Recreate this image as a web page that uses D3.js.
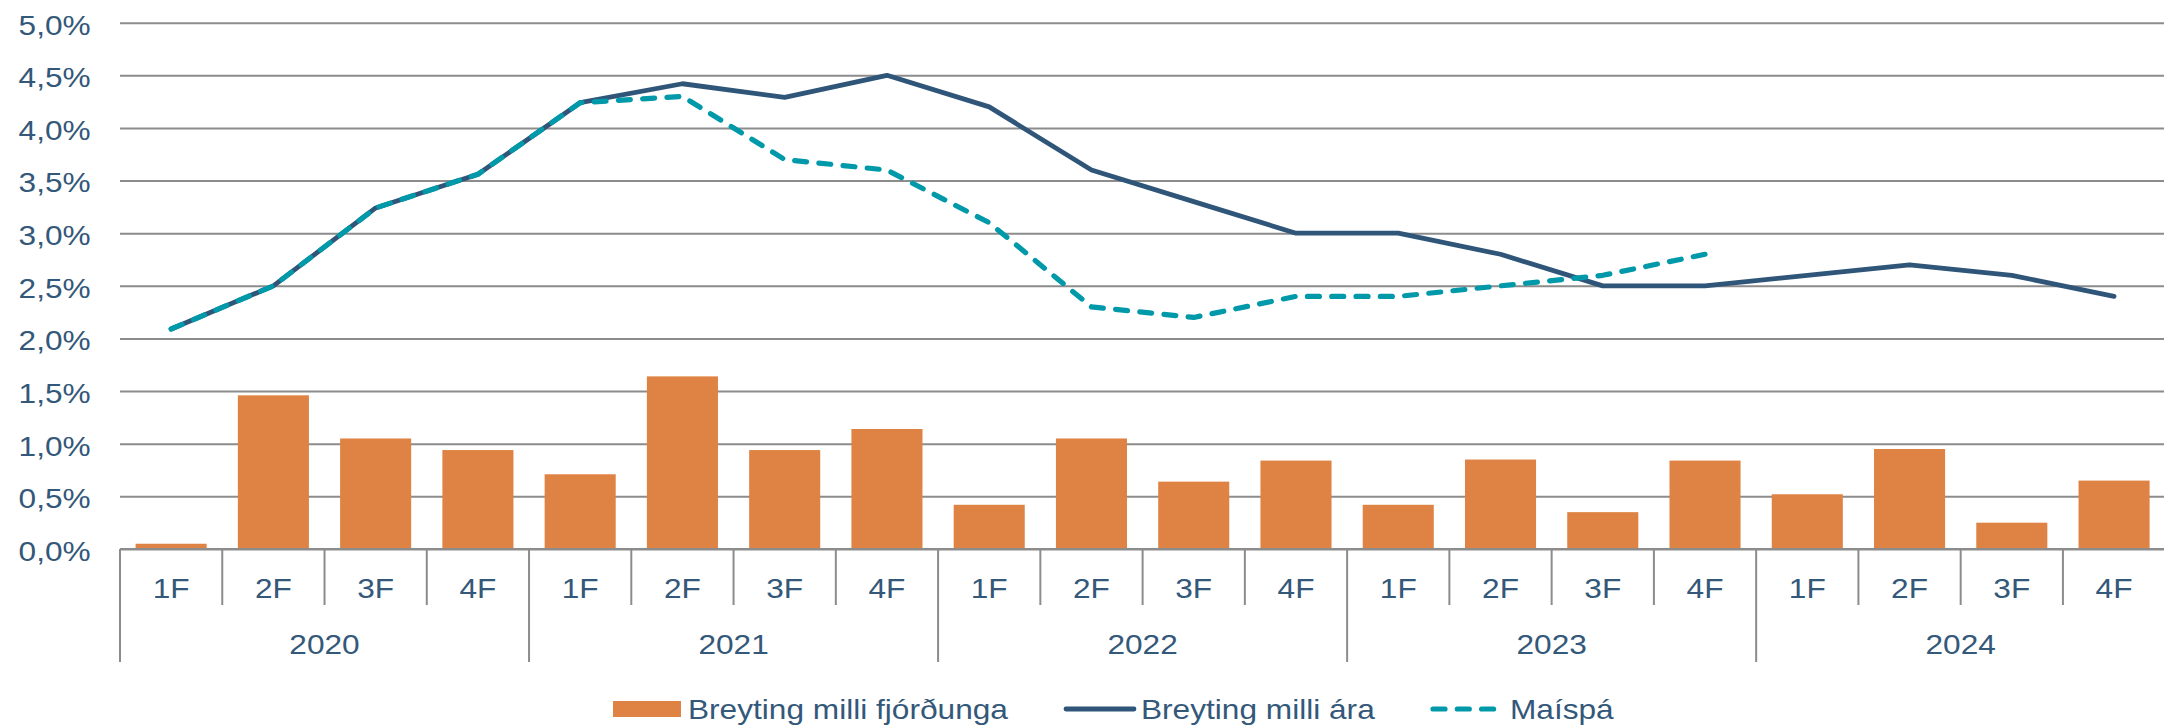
<!DOCTYPE html>
<html>
<head>
<meta charset="utf-8">
<script src="https://cdn.jsdelivr.net/npm/d3@7"></script>
<style>
  html, body { margin: 0; padding: 0; background: #ffffff; }
  svg { display: block; font-family: "Liberation Sans", Arial, sans-serif; }
</style>
</head>
<body>
<svg id="chart" width="2164" height="728"></svg>
<script>
// Quarterly and annual inflation changes, with the May forecast
const years = ["2020", "2021", "2022", "2023", "2024"];
const quarters = ["1F", "2F", "3F", "4F"];
const yTicks = [0, 0.5, 1, 1.5, 2, 2.5, 3, 3.5, 4, 4.5, 5];

// Breyting milli fjórðunga (%)
const quarterly = [0.05, 1.46, 1.05, 0.94,
                   0.71, 1.64, 0.94, 1.14,
                   0.42, 1.05, 0.64, 0.84,
                   0.42, 0.85, 0.35, 0.84,
                   0.52, 0.95, 0.25, 0.65];
// Breyting milli ára (%)
const annual = [2.09, 2.50, 3.24, 3.56,
                4.24, 4.42, 4.29, 4.50,
                4.20, 3.60, 3.30, 3.00,
                3.00, 2.80, 2.50, 2.50,
                2.60, 2.70, 2.60, 2.40];
// Maíspá (%)
const forecast = [2.09, 2.50, 3.24, 3.56,
                  4.24, 4.30, 3.70, 3.60,
                  3.10, 2.30, 2.20, 2.40,
                  2.40, 2.50, 2.60, 2.80];

const seriesNames = ["Breyting milli fjórðunga", "Breyting milli ára", "Maíspá"];

const C = {
  text: "#335879",
  grid: "#8c8c8c",
  bar: "#df8344",
  annual: "#2f5579",
  forecast: "#0099a9"
};
const FS = 28;          // font size
const SX = 1.13;        // horizontal text stretch

const cats = [];
years.forEach(yr => quarters.forEach(q => cats.push(yr + "-" + q)));

const plotLeft = 120, step = 102.26, plotTop = 22.7, plotBottom = 549;
const plotRight = plotLeft + step * cats.length;

const x = d3.scaleBand().domain(cats).range([plotLeft, plotRight])
  .paddingInner(0.305).paddingOuter(0.1525);
const y = d3.scaleLinear().domain([0, 5]).range([plotBottom, plotTop]);
const cx = c => x(c) + x.bandwidth() / 2;
const boundary = i => plotLeft + i * x.step();

const svg = d3.select("#chart");

// Gridlines and y labels
const yAxis = svg.append("g").attr("transform", `translate(${plotLeft},0)`)
  .call(d3.axisLeft(y).tickValues(yTicks).tickSize(-(plotRight - plotLeft))
    .tickFormat(d => d3.format(".1f")(d).replace(".", ",") + "%"));
yAxis.select(".domain").remove();
yAxis.selectAll(".tick line").attr("stroke", C.grid).attr("stroke-width", 2);
yAxis.selectAll(".tick text")
  .attr("x", null).attr("dy", null)
  .attr("fill", C.text).attr("font-size", FS)
  .attr("font-family", "Liberation Sans, Arial, sans-serif")
  .attr("text-anchor", "end").attr("dominant-baseline", "central")
  .attr("transform", `translate(-29.3,1.5) scale(${SX},1)`);

// Bars
svg.append("g").selectAll("rect").data(quarterly).join("rect")
  .attr("x", (d, i) => x(cats[i]))
  .attr("width", x.bandwidth())
  .attr("y", d => y(d))
  .attr("height", d => y(0) - y(d))
  .attr("fill", C.bar);

// Category axis (quarters and years)
const ax = svg.append("g");
ax.append("line").attr("x1", plotLeft).attr("x2", plotRight)
  .attr("y1", plotBottom).attr("y2", plotBottom)
  .attr("stroke", C.grid).attr("stroke-width", 2);
cats.forEach((c, i) => {
  const isYear = i % 4 === 0;
  ax.append("line")
    .attr("x1", boundary(i)).attr("x2", boundary(i))
    .attr("y1", plotBottom).attr("y2", isYear ? 662 : 605)
    .attr("stroke", C.grid).attr("stroke-width", 2);
  ax.append("text")
    .attr("transform", `translate(${cx(c)},588) scale(${SX},1)`)
    .attr("text-anchor", "middle").attr("dominant-baseline", "central")
    .attr("font-size", FS).attr("fill", C.text)
    .text(quarters[i % 4]);
});
years.forEach((yr, k) => {
  const mid = (boundary(k * 4) + boundary(k * 4 + 4)) / 2;
  ax.append("text")
    .attr("transform", `translate(${mid},644) scale(${SX},1)`)
    .attr("text-anchor", "middle").attr("dominant-baseline", "central")
    .attr("font-size", FS).attr("fill", C.text)
    .text(yr);
});

// Lines
const line = d3.line().x((d, i) => cx(cats[i])).y(d => y(d));
svg.append("path").datum(annual).attr("d", line)
  .attr("fill", "none").attr("stroke", C.annual)
  .attr("stroke-width", 4.8).attr("stroke-linejoin", "round").attr("stroke-linecap", "round");
svg.append("path").datum(forecast).attr("d", line)
  .attr("fill", "none").attr("stroke", C.forecast)
  .attr("stroke-width", 5.2).attr("stroke-linejoin", "round").attr("stroke-linecap", "round")
  .attr("stroke-dasharray", "12 12.3");

// Legend
const lg = svg.append("g");
lg.append("rect").attr("x", 613).attr("y", 701).attr("width", 68).attr("height", 16).attr("fill", C.bar);
lg.append("line").attr("x1", 1066).attr("x2", 1134).attr("y1", 709).attr("y2", 709)
  .attr("stroke", C.annual).attr("stroke-width", 4.8).attr("stroke-linecap", "round");
lg.append("line").attr("x1", 1433).attr("x2", 1494).attr("y1", 709).attr("y2", 709)
  .attr("stroke", C.forecast).attr("stroke-width", 5.2).attr("stroke-linecap", "round")
  .attr("stroke-dasharray", "12 12.3");
[[688, seriesNames[0]], [1141, seriesNames[1]], [1510, seriesNames[2]]].forEach(([lx, t]) => {
  lg.append("text")
    .attr("transform", `translate(${lx},709) scale(${SX},1)`)
    .attr("dominant-baseline", "central")
    .attr("font-size", FS).attr("fill", C.text)
    .text(t);
});
</script>
</body>
</html>
